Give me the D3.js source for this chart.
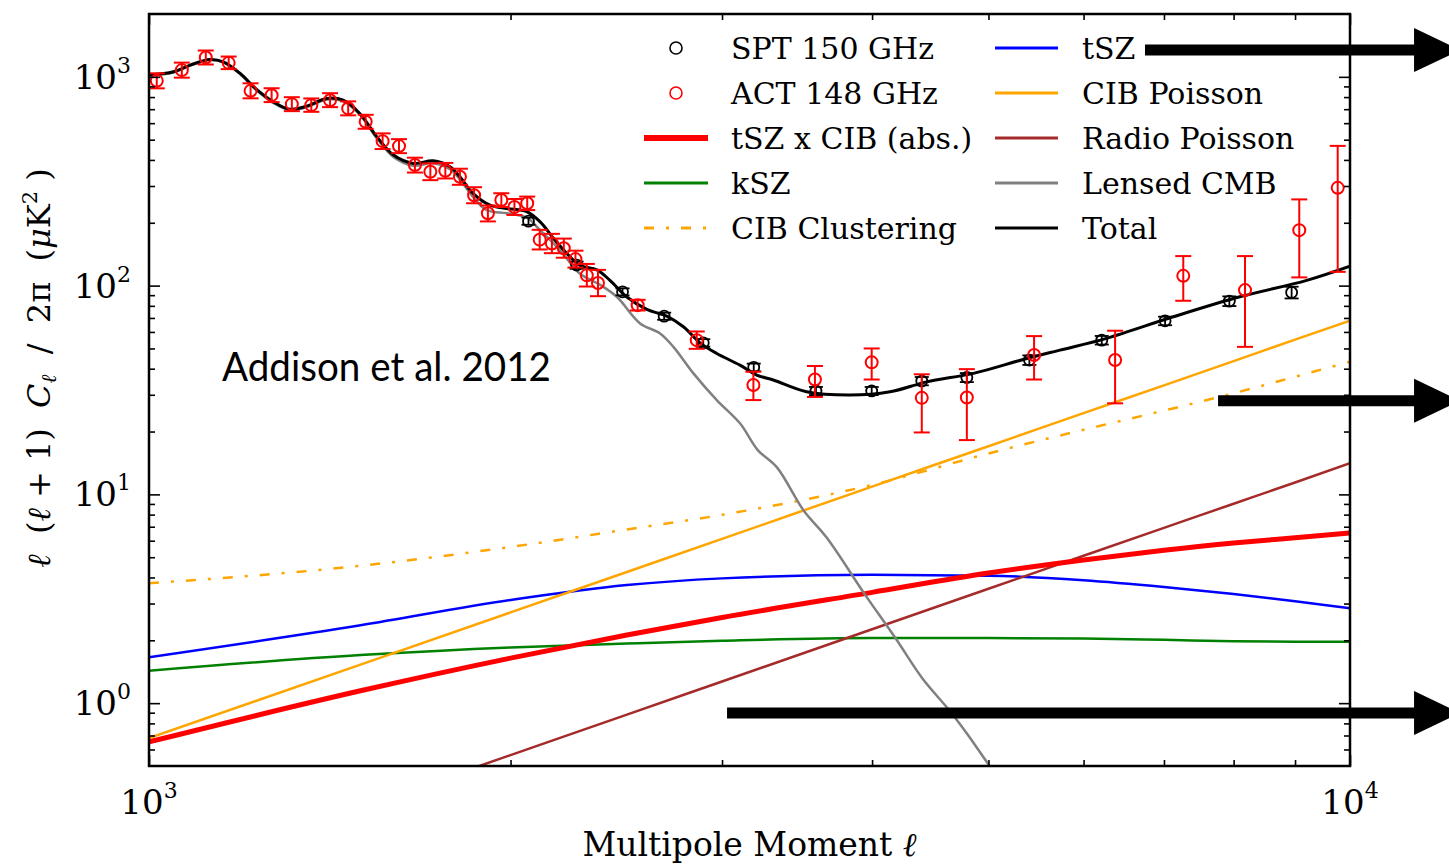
<!DOCTYPE html>
<html><head><meta charset="utf-8">
<script src="https://cdn.jsdelivr.net/npm/d3@7"></script>
<style>body{margin:0;background:#fff}svg{display:block}</style>
</head><body><svg id="chart" width="1449" height="864"></svg>
<script>
// ---------------- DATA ----------------
// ACT 148 GHz band powers (multipole, D_ell, lower, upper) in uK^2
const ellACT = [1015,1065,1115,1165,1215,1265,1315,1365,1415,1465,1515,1565,1615,1665,1715,1765,1815,1865,1915,1965,2015,2065,2115,2165,2215,2265,2315,2365,2552,2858,3186,3585,3997,4400,4797,5457,6374,7264,8177,9073,9767];
const valACT = [957,1077,1238,1167,857,817,740,732,773,706,609,492,466,378,351,355,332,271,222,257,238,248,166,159,151,134,112,103,80.6,54.8,33.4,35.5,42.9,29.0,29.1,46.5,44.0,111.4,95.2,184.4,294];
const loACT  = [881,991,1146,1089,789,757,685,680,716,654,564,451,431,348,320,326,304,248,203,238,218,230,149,143,136,122,99,89,76,49.8,28.3,29.3,35.5,19.8,18.2,35.5,27.3,84.6,50.9,109.5,116.4];
const hiACT  = [1040,1170,1337,1251,931,882,799,788,835,763,658,536,503,410,385,387,363,296,242,277,260,267,185,177,168,147,127,119,85.5,60.3,38.7,41.2,50.0,37.6,39.8,57.3,60.8,138.5,138.5,258.8,467];

// SPT 150 GHz band powers
const ellSPT = [2070,2270,2479,2685,2894,3188,3592,3997,4400,4797,5408,6213,7015,7935,8941];
const valSPT = [203.6,125.4,93.4,71.4,53.2,40.6,31.3,31.3,34.9,36.3,44.0,54.8,67.8,84.3,92.8];
const errSPT = [8,5,3.6,2.8,2.2,1.7,1.4,1.4,1.6,1.8,2.3,2.6,3.2,4.5,6];

// Model components on a common multipole grid
const ellModel   = [1000,1500,2000,2500,3000,4000,5000,6000,7000,8000,9000,10000];
const tSZ        = [1.66,2.36,3.12,3.68,3.96,4.12,4.08,3.88,3.6,3.33,3.08,2.85];
const kSZ        = [1.43,1.70,1.85,1.93,1.99,2.05,2.05,2.04,2.01,1.98,1.97,1.97];
const tSZxCIB    = [0.652,1.146,1.643,2.12,2.572,3.394,4.2,4.85,5.4,5.85,6.2,6.53];
const cibPoisson = [0.68,1.53,2.72,4.25,6.12,10.9,17.0,24.5,33.3,43.5,55.1,68];
const cibClust   = [3.75,4.55,5.6,6.79,7.98,11.1,15.7,20.4,25.2,30.5,36.6,43.2];
const radioPoisson = [0.141,0.317,0.564,0.881,1.27,2.26,3.53,5.08,6.91,9.02,11.4,14.1];

// Lensed CMB
const ellCMB = [1000,1048,1082,1124,1153,1191,1229,1269,1310,1353,1406,1451,1498,1548,1598,1660,1724,1781,1815,1862,1911,1986,2063,2117,2199,2285,2374,2452,2564,2664,2733,2840,2970,3105,3213,3332,3508,3665,3945,4183,4404,4636,4809,5008,5200];
const valCMB = [1013,1050,1131,1203,1172,1030,862,751,692,716,779,764,659,507,413,375,386,361,322,265,230,222,212,184,148,114,101,88.4,65.9,59.0,50.9,38.0,28.3,21.9,16.3,13.5,8.37,6.23,3.32,2.05,1.316,0.927,0.702,0.503,0.38];

// Total model
const ellTotal = [1000,1048,1082,1124,1153,1191,1229,1269,1310,1353,1406,1451,1498,1548,1598,1660,1724,1781,1815,1862,1923,1986,2063,2117,2178,2227,2285,2360,2420,2498,2597,2698,2786,2876,2970,3105,3206,3310,3528,3834,4140,4441,4858,5346,5734,6271,7126,8096,9204,10000];
const valTotal = [1020,1057,1138,1211,1180,1038,870,759,700,724,788,773,668,516,422,385,396,371,332,276,243,234,226,202,165,143,125,119,106,88.4,76.9,71.4,63.5,53.2,47.3,41.6,37.3,35.3,31.0,29.9,31.0,34.6,38.0,44.3,49.1,55.9,70.9,88.4,106,124];

// Axis ticks
const xMajor = [1000,10000];
const xMinor = [2000,3000,4000,5000,6000,7000,8000,9000];
const yMajor = [1,10,100,1000];
const yMinor = [0.6,0.7,0.8,0.9,2,3,4,5,6,7,8,9,20,30,40,50,60,70,80,90,200,300,400,500,600,700,800,900];

// Annotation arrows (start multipole, end multipole, level)
const arrowStart = [6750,7765,3029];
const arrowEnd   = [12350,12350,12350];
const arrowLevel = [1343,28.1,0.897];

// ---------------- CHART ----------------
const W=1449,H=864;
const M={l:149,r:1350,t:14,b:766};
const svg=d3.select("#chart");
const x=d3.scaleLog().domain([1000,10000]).range([M.l,M.r]);
const y=d3.scaleLog().domain([0.5,2000]).range([M.b,M.t]);
const serif="'DejaVu Serif', serif";

svg.append("rect").attr("width",W).attr("height",H).attr("fill","#fff");
svg.append("clipPath").attr("id","clip").append("rect")
  .attr("x",M.l).attr("y",M.t).attr("width",M.r-M.l).attr("height",M.b-M.t);
const plot=svg.append("g").attr("clip-path","url(#clip)");

const models=[
  {vals:tSZ,color:"#0000ff",w:2.5},
  {vals:kSZ,color:"#008000",w:2.5},
  {vals:cibPoisson,color:"#ffa500",w:2.5},
  {vals:cibClust,color:"#ffa500",w:2.5,dash:"10,12,3,12"},
  {vals:radioPoisson,color:"#a52a2a",w:2.5},
  {vals:tSZxCIB,color:"#ff0000",w:5},
];
const lineM=d3.line().x((d,i)=>x(ellModel[i])).y(d=>y(d)).curve(d3.curveMonotoneX);
models.forEach(s=>{
  plot.append("path").attr("d",lineM(s.vals)).attr("fill","none")
    .attr("stroke",s.color).attr("stroke-width",s.w)
    .attr("stroke-dasharray",s.dash||null);
});
const lineCMB=d3.line().x((d,i)=>x(ellCMB[i])).y(d=>y(d)).curve(d3.curveCatmullRom.alpha(0.5));
plot.append("path").attr("d",lineCMB(valCMB)).attr("fill","none").attr("stroke","#808080").attr("stroke-width",2.5);
const lineT=d3.line().x((d,i)=>x(ellTotal[i])).y(d=>y(d)).curve(d3.curveCatmullRom.alpha(0.5));
plot.append("path").attr("d",lineT(valTotal)).attr("fill","none").attr("stroke","#000").attr("stroke-width",3);

// data points
function drawPts(ells,vals,lo,hi,color,lw,cap,r){
  const g=plot.append("g").attr("stroke",color).attr("fill","none").attr("stroke-width",lw);
  ells.forEach((l,i)=>{
    const cx=x(l);
    g.append("line").attr("x1",cx).attr("x2",cx).attr("y1",y(lo[i])).attr("y2",y(hi[i]));
    g.append("line").attr("x1",cx-cap).attr("x2",cx+cap).attr("y1",y(lo[i])).attr("y2",y(lo[i]));
    g.append("line").attr("x1",cx-cap).attr("x2",cx+cap).attr("y1",y(hi[i])).attr("y2",y(hi[i]));
    g.append("circle").attr("cx",cx).attr("cy",y(vals[i])).attr("r",r);
  });
}
drawPts(ellSPT,valSPT,valSPT.map((v,i)=>v-errSPT[i]),valSPT.map((v,i)=>v+errSPT[i]),"#000",1.8,7,5.5);
drawPts(ellACT,valACT,loACT,hiACT,"#ff0000",2,8,6);

// axes (ticks inward)
function axis(gen,vals,size,tr){
  const g=svg.append("g").attr("transform",tr)
    .call(gen.tickValues(vals).tickSizeInner(-size).tickSizeOuter(0).tickFormat(""));
  g.select(".domain").remove();
  g.selectAll("line").attr("stroke","#000").attr("stroke-width",1.6);
}
axis(d3.axisBottom(x),xMinor,6,`translate(0,${M.b})`);
axis(d3.axisTop(x),xMinor,6,`translate(0,${M.t})`);
axis(d3.axisLeft(y),yMinor,6,`translate(${M.l},0)`);
axis(d3.axisRight(y),yMinor,6,`translate(${M.r},0)`);
axis(d3.axisLeft(y),yMajor,11,`translate(${M.l},0)`);
axis(d3.axisRight(y),yMajor,11,`translate(${M.r},0)`);
axis(d3.axisBottom(x),xMajor,11,`translate(0,${M.b})`);
axis(d3.axisTop(x),xMajor,11,`translate(0,${M.t})`);
svg.append("rect").attr("x",M.l).attr("y",M.t).attr("width",M.r-M.l).attr("height",M.b-M.t)
  .attr("fill","none").attr("stroke","#000").attr("stroke-width",2.5);

// tick labels
yMajor.forEach(v=>{
  const t=svg.append("text").attr("x",M.l-18).attr("y",y(v)+12).attr("text-anchor","end")
    .attr("font-family",serif).attr("font-size",34).attr("fill","#000");
  t.append("tspan").text("10");
  t.append("tspan").attr("font-size",22).attr("dy",-16).text(String(Math.round(Math.log10(v))));
});
xMajor.forEach(v=>{
  const t=svg.append("text").attr("x",x(v)).attr("y",M.b+48).attr("text-anchor","middle")
    .attr("font-family",serif).attr("font-size",34).attr("fill","#000");
  t.append("tspan").text("10");
  t.append("tspan").attr("font-size",22).attr("dy",-16).text(String(Math.round(Math.log10(v))));
});

// axis titles
const xt=svg.append("text").attr("x",(M.l+M.r)/2).attr("y",856).attr("text-anchor","middle")
  .attr("font-family",serif).attr("font-size",33).attr("fill","#000");
xt.append("tspan").text("Multipole Moment ");
xt.append("tspan").attr("font-style","italic").text("ℓ");

const yt=svg.append("text").attr("transform",`translate(50,368) rotate(-90)`)
  .attr("text-anchor","middle").attr("font-family",serif).attr("font-size",32).attr("fill","#000")
  .style("white-space","pre");
yt.append("tspan").attr("font-style","italic").text("ℓ");
yt.append("tspan").text("  (");
yt.append("tspan").attr("font-style","italic").text("ℓ");
yt.append("tspan").text(" + 1)  ");
yt.append("tspan").attr("font-style","italic").text("C");
yt.append("tspan").attr("font-style","italic").attr("font-size",21).attr("dy",6).text("ℓ");
yt.append("tspan").attr("dy",-6).text("  /  2π  (");
yt.append("tspan").attr("font-style","italic").text("μ");
yt.append("tspan").text("K");
yt.append("tspan").attr("font-size",21).attr("dy",-13).text("2");
yt.append("tspan").attr("dy",13).text(" )");

// annotation text
svg.append("text").attr("x",222).attr("y",381).attr("font-family","Lato, 'Open Sans', sans-serif")
  .attr("font-size",40).attr("textLength",329).attr("lengthAdjust","spacingAndGlyphs")
  .attr("fill","#000").text("Addison et al. 2012");

// legend
const legend=[
  {label:"SPT 150 GHz",type:"marker",color:"#000",col:0,row:0},
  {label:"ACT 148 GHz",type:"marker",color:"#ff0000",col:0,row:1},
  {label:"tSZ x CIB (abs.)",type:"line",color:"#ff0000",w:6,col:0,row:2},
  {label:"kSZ",type:"line",color:"#008000",w:3,col:0,row:3},
  {label:"CIB Clustering",type:"line",color:"#ffa500",w:3,dash:"10,12,3,12",col:0,row:4},
  {label:"tSZ",type:"line",color:"#0000ff",w:3,col:1,row:0},
  {label:"CIB Poisson",type:"line",color:"#ffa500",w:3,col:1,row:1},
  {label:"Radio Poisson",type:"line",color:"#a52a2a",w:3,col:1,row:2},
  {label:"Lensed CMB",type:"line",color:"#808080",w:3,col:1,row:3},
  {label:"Total",type:"line",color:"#000",w:3,col:1,row:4},
];
const colX=[[644,708,731],[995,1058,1082]];
legend.forEach(e=>{
  const cy=48+e.row*45;
  const c=colX[e.col];
  if(e.type==="marker"){
    svg.append("circle").attr("cx",(c[0]+c[1])/2).attr("cy",cy).attr("r",6)
      .attr("fill","none").attr("stroke",e.color).attr("stroke-width",1.6);
  } else {
    svg.append("line").attr("x1",c[0]).attr("x2",c[1]).attr("y1",cy).attr("y2",cy)
      .attr("stroke",e.color).attr("stroke-width",e.w).attr("stroke-dasharray",e.dash||null);
  }
  svg.append("text").attr("x",c[2]).attr("y",cy+11).attr("font-family",serif)
    .attr("font-size",30).attr("fill","#000").text(e.label);
});

// arrows
arrowLevel.forEach((v,i)=>{
  const yy=y(v), x0=x(arrowStart[i]), x1=x(arrowEnd[i]), hl=46, hw=22;
  svg.append("line").attr("x1",x0).attr("x2",x1-hl+2).attr("y1",yy).attr("y2",yy)
    .attr("stroke","#000").attr("stroke-width",11);
  svg.append("path").attr("d",`M${x1-hl},${yy-hw}L${x1},${yy}L${x1-hl},${yy+hw}Z`).attr("fill","#000");
});
</script></body></html>
